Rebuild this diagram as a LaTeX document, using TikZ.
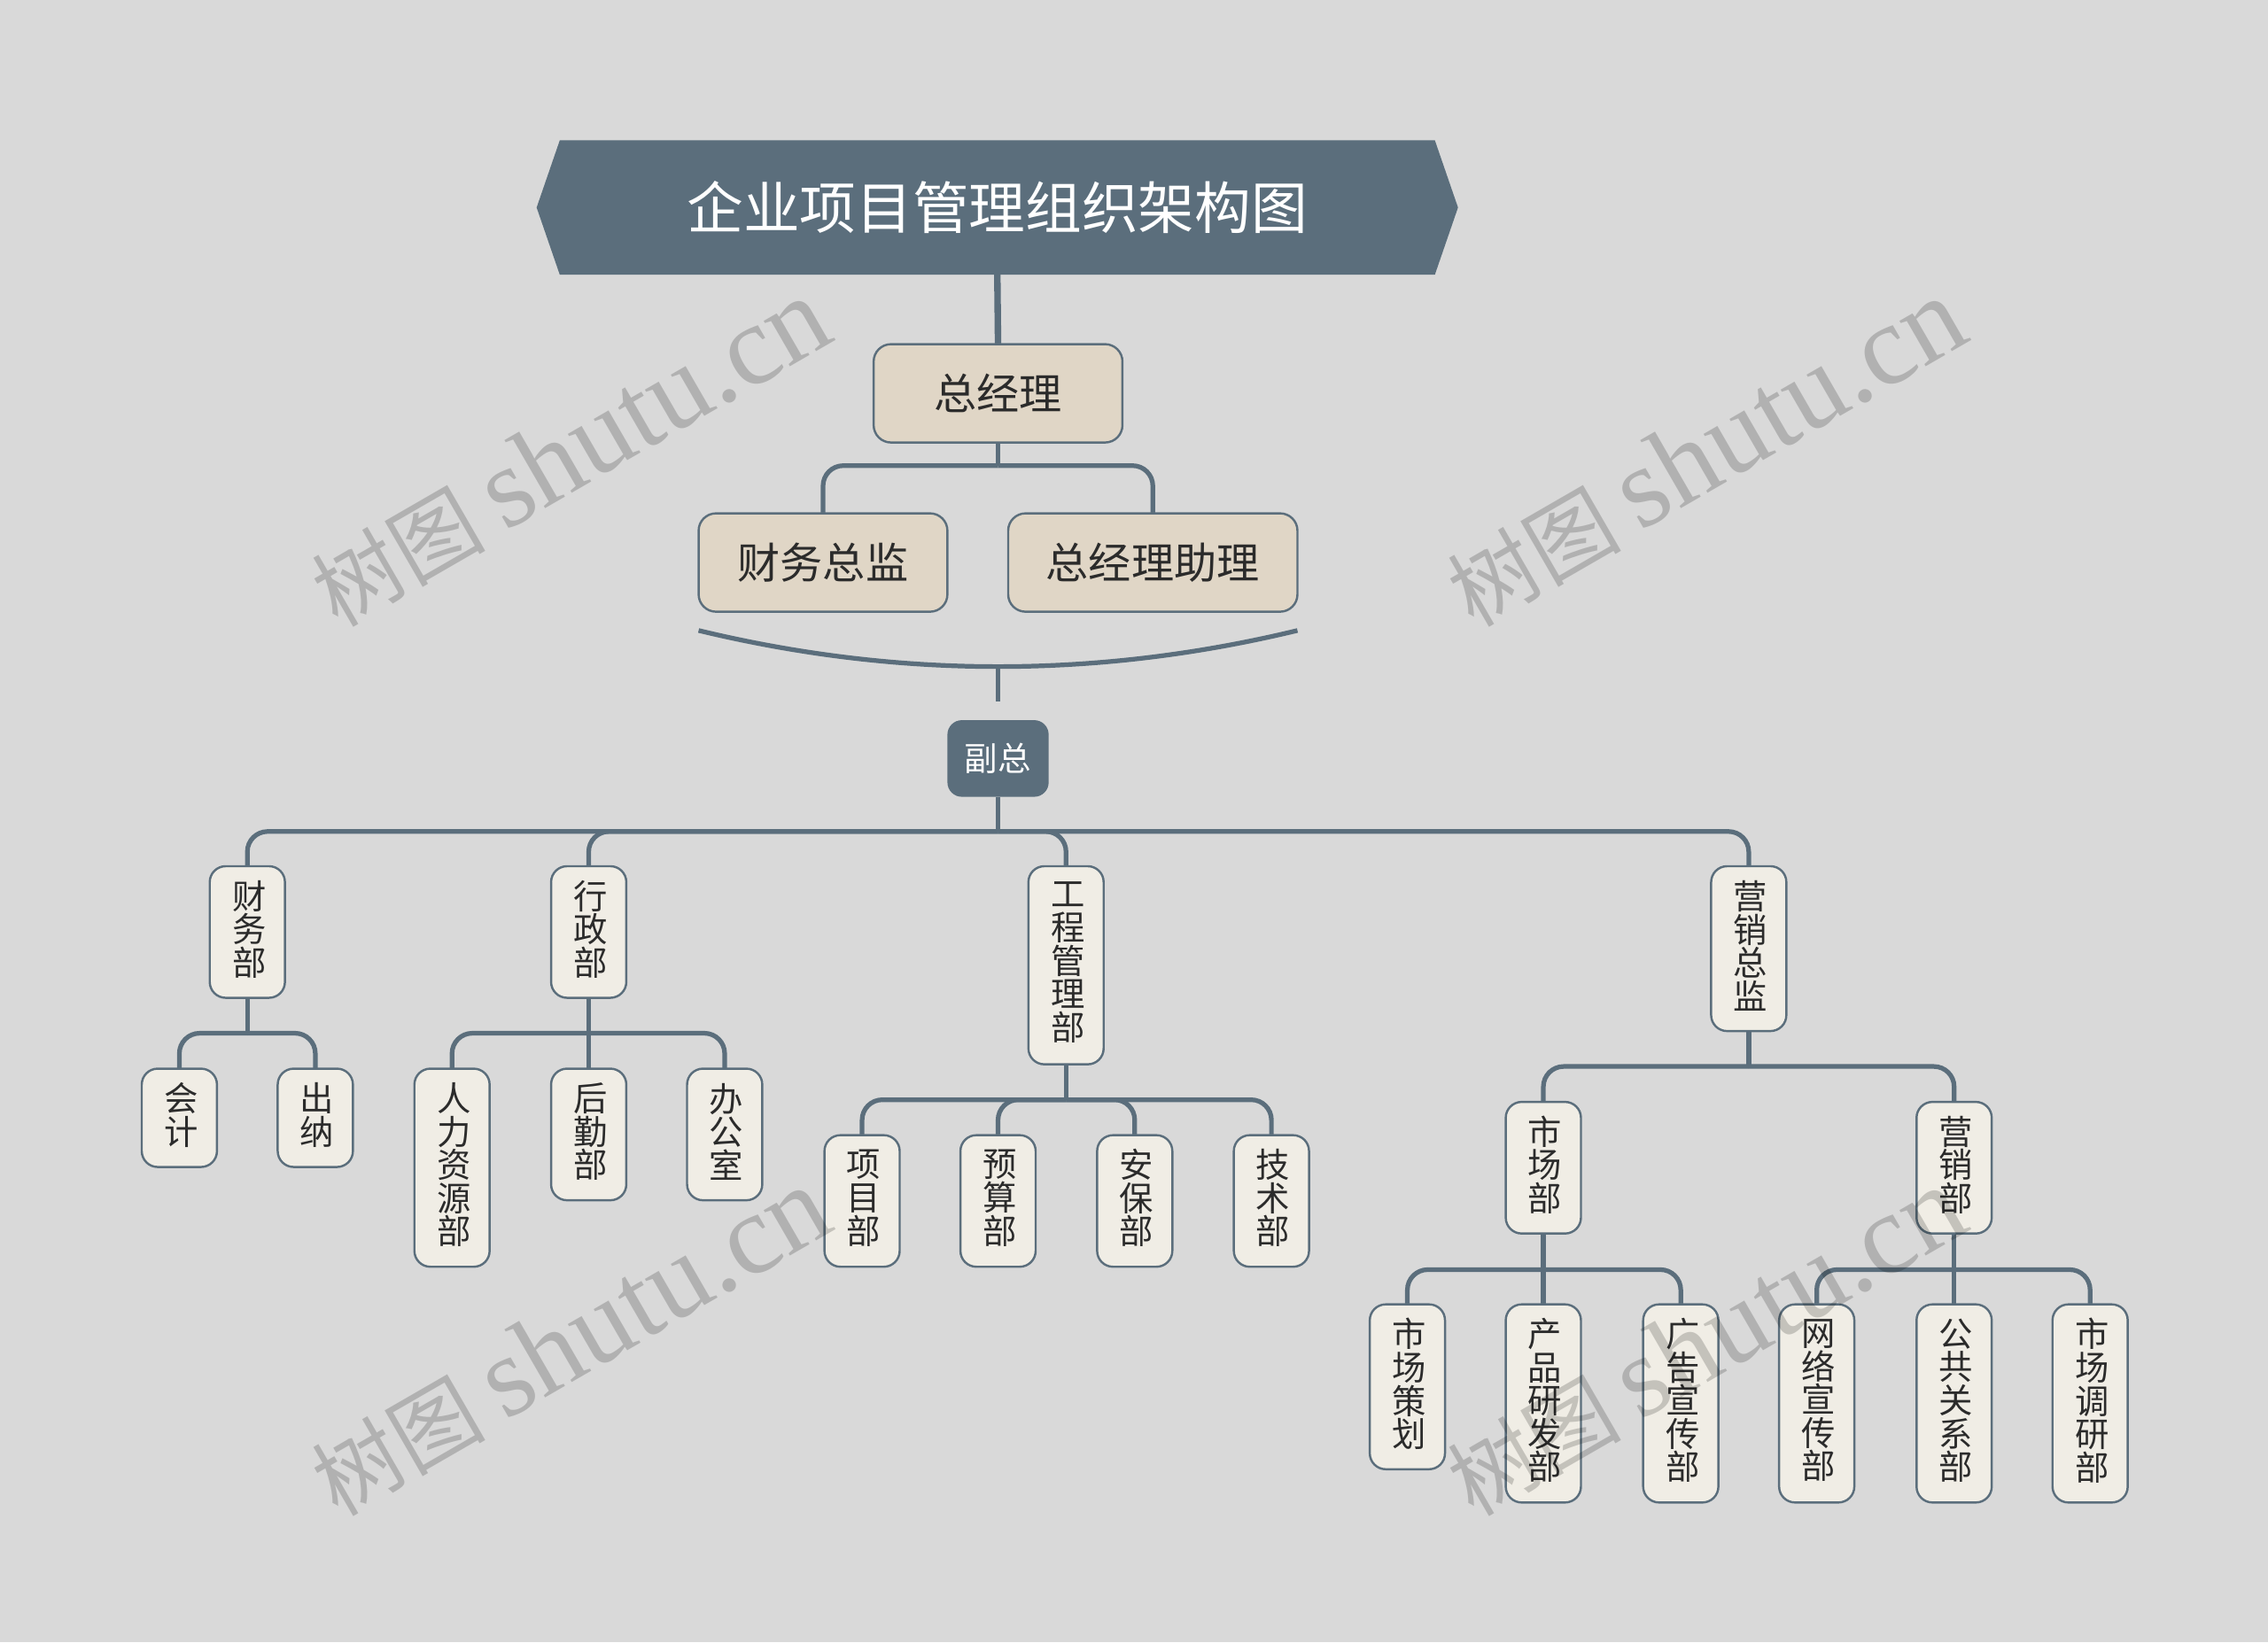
\documentclass[tikz,border=0pt]{standalone}
\usepackage{fontspec}
\usetikzlibrary{shapes.symbols}
\setmainfont{Noto Sans CJK SC}
\newfontfamily\wmlatin{Liberation Serif}
\XeTeXlinebreaklocale "zh"
\XeTeXlinebreakskip=0pt
\lineskiplimit=-30pt
\hbadness=10000
\hfuzz=10pt
\definecolor{slate}{HTML}{5B6E7C}
\definecolor{pagebg}{HTML}{D9D9D9}
\definecolor{headfill}{HTML}{E0D6C6}
\definecolor{leaffill}{HTML}{F0EDE5}
\definecolor{inkdark}{HTML}{2B2B2B}
\tikzset{
  banner/.style={signal, signal to=west and east, signal pointer angle=142, fill=slate, text=white,
    minimum width=637pt, minimum height=93pt, inner sep=0pt, outer sep=0pt, font=\fontsize{39}{42}\selectfont},
  headbox/.style={draw=slate, line width=1.5pt, fill=headfill, rounded corners=12pt, text=inkdark,
    minimum width=#1, minimum height=68pt, inner sep=0pt, outer sep=0pt, font=\fontsize{29.5}{32}\selectfont},
  vicebox/.style={fill=slate, rounded corners=10pt, text=white, minimum width=70pt, minimum height=53pt,
    inner sep=0pt, outer sep=0pt, font=\fontsize{23}{25}\selectfont},
  leaf/.style={draw=slate, line width=1.5pt, fill=leaffill, rounded corners=11pt, text=inkdark, anchor=north,
    minimum width=52pt, minimum height=#1*23pt+22pt, text width=21pt, inner xsep=0pt, inner ysep=0pt,
    outer sep=0pt, execute at end node={\par\kern4pt}, font=\fontsize{23.5}{23}\selectfont},
  link/.style={draw=slate, line width=3.2pt},
  elbow/.style={link, rounded corners=14pt},
  thicklink/.style={draw=slate, line width=4.5pt},
  mark text/.style={rotate=30, opacity=0.18, text=black, font=\fontsize{60}{72}\selectfont},
}
\begin{document}
\begin{tikzpicture}[x=1pt,y=-1pt]
\fill[pagebg] (0,0) rectangle (1568,1135.6);
\useasboundingbox (0,0) rectangle (1568,1135.6);
\node[banner] (nid0) at (689.5,143.5) {企业项目管理组织架构图};
\node[headbox=172pt] (nid1) at (690,272) {总经理};
\draw[thicklink](nid0.south) -- (nid1.north);
\node[headbox=172pt] (nid2) at (569,389) {财务总监};
\node[headbox=200pt] (nid3) at (797,389) {总经理助理};
\coordinate (bus1) at (690,322);
\draw[link](nid1.south) -- (bus1);
\draw[elbow](bus1) -| (nid2.north);
\draw[elbow](bus1) -| (nid3.north);

\coordinate (capL) at (483,436);
\coordinate (capR) at (897,436);
\coordinate (capM) at (690,461);
\coordinate (capE) at (690,485);
\draw[link](capL) .. controls (621,469.3) and (759,469.3) .. (capR);
\draw[link](capM) -- (capE);
\node[vicebox] (nid4) at (690,524.5) {副总};

\node[leaf=3] (nid5) at (171,599) {财务部};
\node[leaf=3] (nid6) at (407,599) {行政部};
\node[leaf=5] (nid7) at (737,599) {工程管理部};
\node[leaf=4] (nid8) at (1209,599) {营销总监};
\coordinate (bus4) at (690,575);
\draw[link](nid4.south) -- (bus4);
\draw[elbow](bus4) -| (nid5.north);
\draw[elbow](bus4) -| (nid6.north);
\draw[elbow](bus4) -| (nid7.north);
\draw[elbow](bus4) -| (nid8.north);

\node[leaf=2] (nid9) at (124,739) {会计};
\node[leaf=2] (nid10) at (218,739) {出纳};
\coordinate (bus5) at (171,714.5);
\draw[link](nid5.south) -- (bus5);
\draw[elbow](bus5) -| (nid9.north);
\draw[elbow](bus5) -| (nid10.north);

\node[leaf=5] (nid11) at (312.5,739) {人力资源部};
\node[leaf=3] (nid12) at (407,739) {后勤部};
\node[leaf=3] (nid13) at (501,739) {办公室};
\coordinate (bus6) at (407,714.5);
\draw[link](nid6.south) -- (nid12.north);
\draw[elbow](bus6) -| (nid11.north);
\draw[elbow](bus6) -| (nid13.north);

\node[leaf=3] (nid14) at (596,785) {项目部};
\node[leaf=3] (nid15) at (690,785) {预算部};
\node[leaf=3] (nid16) at (784.5,785) {安保部};
\node[leaf=3] (nid17) at (879,785) {技术部};
\coordinate (bus7) at (737,760.5);
\draw[link](nid7.south) -- (bus7);
\draw[elbow](bus7) -| (nid14.north);
\draw[elbow](bus7) -| (nid15.north);
\draw[elbow](bus7) -| (nid16.north);
\draw[elbow](bus7) -| (nid17.north);

\node[leaf=3] (nid18) at (1067,762) {市场部};
\node[leaf=3] (nid19) at (1351,762) {营销部};
\coordinate (bus8) at (1209,737.5);
\draw[link](nid8.south) -- (bus8);
\draw[elbow](bus8) -| (nid18.north);
\draw[elbow](bus8) -| (nid19.north);

\node[leaf=4] (nid20) at (973,902) {市场策划};
\node[leaf=5] (nid21) at (1067,902) {产品研发部};
\node[leaf=5] (nid22) at (1162,902) {广告宣传部};
\coordinate (bus18) at (1067,878);
\draw[link](nid18.south) -- (nid21.north);
\draw[elbow](bus18) -| (nid20.north);
\draw[elbow](bus18) -| (nid22.north);

\node[leaf=5] (nid23) at (1256,902) {网络宣传部};
\node[leaf=5] (nid24) at (1351,902) {公共关系部};
\node[leaf=5] (nid25) at (1445,902) {市场调研部};
\coordinate (bus19) at (1351,878);
\draw[link](nid19.south) -- (nid24.north);
\draw[elbow](bus19) -| (nid23.north);
\draw[elbow](bus19) -| (nid25.north);

\node[mark text] (wm0) at (394,313) {树图 {\wmlatin\fontsize{79}{80}\selectfont shutu.cn}};
\node[mark text] (wm1) at (1179,313) {树图 {\wmlatin\fontsize{79}{80}\selectfont shutu.cn}};
\node[mark text] (wm2) at (394,928) {树图 {\wmlatin\fontsize{79}{80}\selectfont shutu.cn}};
\node[mark text] (wm3) at (1179,928) {树图 {\wmlatin\fontsize{79}{80}\selectfont shutu.cn}};
\end{tikzpicture}
\end{document}
